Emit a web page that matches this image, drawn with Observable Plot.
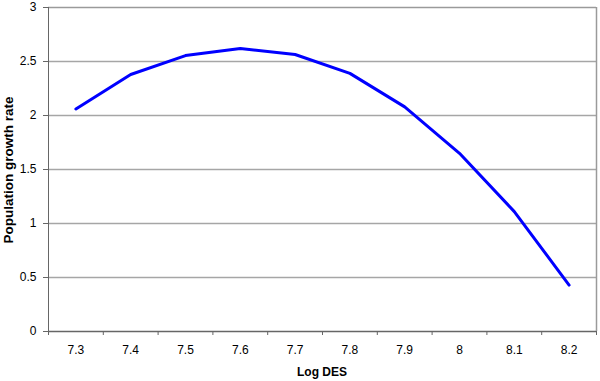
<!DOCTYPE html>
<html>
<head>
<meta charset="utf-8">
<script src="https://cdn.jsdelivr.net/npm/d3@7"></script>
<script src="https://cdn.jsdelivr.net/npm/@observablehq/plot@0.6"></script>
<style>
  html, body { margin: 0; padding: 0; background: #fff; }
  #chart { width: 600px; height: 381px; }
</style>
</head>
<body>
<div id="chart"></div>
<script>
const logDES = [7.3, 7.4, 7.5, 7.6, 7.7, 7.8, 7.9, 8.0, 8.1, 8.2];
const growthRate = [2.06, 2.38, 2.555, 2.62, 2.565, 2.39, 2.08, 1.65, 1.11, 0.43];
const yTicks = [0, 0.5, 1, 1.5, 2, 2.5, 3];
const gridValues = [0.5, 1, 1.5, 2, 2.5];
const xLabels = ["7.3", "7.4", "7.5", "7.6", "7.7", "7.8", "7.9", "8", "8.1", "8.2"];
const xBoundaries = [7.25, 7.35, 7.45, 7.55, 7.65, 7.75, 7.85, 7.95, 8.05, 8.15, 8.25];

const data = logDES.map((x, i) => ({x, y: growthRate[i]}));
const font = "Liberation Sans, Arial, sans-serif";

const chart = Plot.plot({
  width: 600,
  height: 381,
  marginLeft: 48,
  marginRight: 4,
  marginTop: 7,
  marginBottom: 50,
  x: {domain: [7.25, 8.25]},
  y: {domain: [0, 3]},
  marks: [
    Plot.ruleY(gridValues, {y: d => d, stroke: "#a6a6a6", strokeWidth: 1.3}),
    Plot.ruleY([3], {stroke: "#9a9a9a", strokeWidth: 1.3}),
    Plot.ruleX([8.25], {stroke: "#9a9a9a", strokeWidth: 1.5}),
    Plot.ruleX([7.25], {stroke: "#666", strokeWidth: 1}),
    Plot.ruleY([0], {stroke: "#666", strokeWidth: 1.5}),
    Plot.axisY({ticks: yTicks, tickSize: 5, tickPadding: 7, tickFormat: d => String(d), fontSize: 12, fontFamily: font, fill: "#000", stroke: "#666", label: null}),
    Plot.axisX({ticks: xBoundaries, tickSize: 4, tickFormat: () => "", stroke: "#666", label: null}),
    Plot.text(logDES, {x: d => d, y: 0, text: (d, i) => xLabels[i], dy: 19, fontSize: 12, fontFamily: font, fill: "#000"}),
    Plot.line(data, {x: "x", y: "y", stroke: "#0000ff", strokeWidth: 3, strokeLinejoin: "round"})
  ]
});

const svg = d3.select(chart);
svg.append("text")
  .attr("x", 322).attr("y", 376)
  .attr("text-anchor", "middle")
  .attr("font-family", font).attr("font-size", 12).attr("font-weight", "bold")
  .text("Log DES");
svg.append("text")
  .attr("transform", "translate(13,170) rotate(-90)")
  .attr("text-anchor", "middle")
  .attr("font-family", font).attr("font-size", 13.5).attr("font-weight", "bold")
  .text("Population growth rate");

document.getElementById("chart").appendChild(chart);
</script>
</body>
</html>
